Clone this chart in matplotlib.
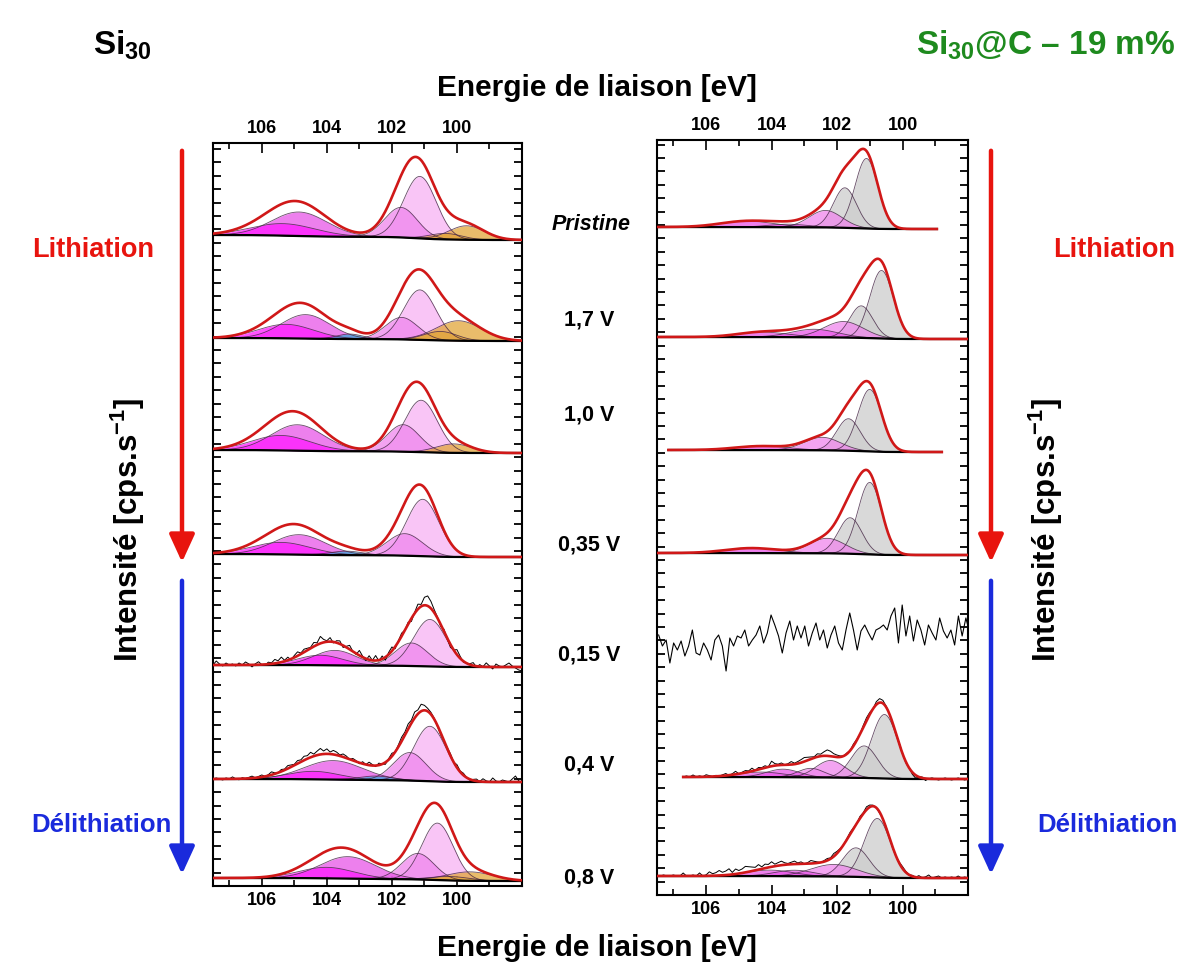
import numpy as np
import matplotlib
matplotlib.use('Agg')
import matplotlib.pyplot as plt
from matplotlib.patches import FancyArrowPatch
from matplotlib.ticker import MultipleLocator

plt.rcParams['font.family'] = ['Liberation Sans', 'DejaVu Sans']
plt.rcParams['mathtext.fontset'] = 'custom'
plt.rcParams['mathtext.rm'] = 'Liberation Sans:bold'
plt.rcParams['mathtext.bf'] = 'Liberation Sans:bold'

W, H = 1194, 965

# ---- data (energies in eV, intensities in arbitrary units) ----
spectrum_labels = ['Pristine', '1,7 V', '1,0 V', '0,35 V', '0,15 V', '0,4 V', '0,8 V']

left_base = [646, 545, 433, 329, 219, 104, 5]
left_step = [5, 3, 3, 3, 2, 3, 3]
left_peaks = [
    [(101.14, 62, 0.5, 'a'), (101.72, 30, 0.5, 'b'), (104.85, 24, 0.85, 'c'),
     (105.35, 12, 1.0, 'd'), (99.7, 14, 0.55, 'o'), (100.35, 6, 0.5, 'o')],
    [(101.14, 50, 0.5, 'a'), (101.7, 22, 0.5, 'b'), (104.65, 24, 0.75, 'c'),
     (105.25, 14, 0.85, 'd'), (99.95, 20, 0.7, 'o'), (100.5, 9, 0.5, 'o'), (103.3, 5, 0.4, 'cy')],
    [(101.1, 52, 0.5, 'a'), (101.65, 27, 0.5, 'b'), (104.9, 26, 0.8, 'c'),
     (105.4, 15, 0.9, 'd'), (100.1, 9, 0.55, 'o')],
    [(101.05, 57, 0.5, 'a'), (101.6, 22, 0.55, 'b'), (104.85, 20, 0.8, 'c'),
     (105.4, 12, 0.9, 'd'), (103.4, 4, 0.5, 'cy')],
    [(100.83, 47, 0.5, 'a'), (101.4, 23, 0.5, 'b'), (103.75, 15, 0.65, 'c'), (104.2, 10, 0.7, 'd')],
    [(100.83, 55, 0.5, 'a'), (101.45, 28, 0.5, 'b'), (103.8, 19, 0.9, 'c'),
     (104.4, 8, 0.8, 'd'), (102.5, 4, 0.5, 'cy')],
    [(100.6, 57, 0.48, 'a'), (101.2, 26, 0.5, 'b'), (103.35, 22, 0.85, 'c'),
     (104.0, 11, 0.85, 'd'), (99.6, 9, 0.7, 'o'), (100.2, 4, 0.6, 'o')],
]
left_range = [(107.5, 98.0)] * 7

right_base = [666, 556, 443, 340, 212, 116, 17]
right_step = [2, 2, 2, 2, 0, 2, 2]
right_peaks = [
    [(101.1, 70, 0.35, 'g'), (101.76, 40, 0.35, 'g'), (102.35, 17, 0.5, 'b'),
     (104.75, 6, 0.8, 'c'), (103.5, 3, 0.6, 'c')],
    [(100.64, 68, 0.36, 'g'), (101.26, 32, 0.35, 'g'), (101.8, 16, 0.6, 'b'),
     (102.7, 8, 0.7, 'c'), (104.27, 5, 0.75, 'c')],
    [(101.0, 62, 0.36, 'g'), (101.65, 32, 0.36, 'g'), (102.45, 13, 0.55, 'b'), (104.3, 4, 0.8, 'c')],
    [(101.0, 72, 0.36, 'g'), (101.6, 36, 0.36, 'g'), (102.3, 15, 0.55, 'b'), (104.6, 5, 0.8, 'c')],
    [],
    [(100.55, 64, 0.4, 'g'), (101.17, 32, 0.4, 'g'), (102.2, 17, 0.45, 'b'),
     (102.8, 9, 0.4, 'b'), (103.65, 8, 0.5, 'c'), (104.3, 5, 0.7, 'c')],
    [(100.77, 59, 0.4, 'g'), (101.42, 29, 0.4, 'g'), (102.1, 12, 0.7, 'b'),
     (103.3, 6, 0.6, 'c'), (104.05, 6, 0.7, 'c')],
]
right_range = [(107.5, 98.95), (107.5, 97.9), (107.15, 98.8), (107.5, 97.9),
               (107.45, 97.95), (106.7, 97.9), (107.5, 97.9)]

# raw data minus fit envelope (noisy spectra only)
dev_left_015 = [0, 4, 1, -1, 2, 0, 1, -1, 2, 0,
                3, 1, -2, 1, 3, 0, -1, 2, 1, 4,
                2, 5, 1, 3, -1, 2, 4, 1, 3, 2,
                1, 4, 2, 7, 3, 1, 4, -1, 2, 3,
                -2, 1, 4, 0, -1, 5, 1, -2, 4, 0,
                5, -1, 3, -3, 2, 4, -2, 1, 3, 0,
                2, -3, 1, 5, 2, 8, 10, 7, 3, 1,
                -2, 2, -1, -3, 0, 5, 2, -1, 0, 1,
                3, -1, 2, 0, 4, 1, -2, 3, 1, 0,
                2, 4, 1, -1, -3, -4]
dev_left_04 = [0, 1, 0, -1, 1, 0, 2, 0, -1, 1,
               0, 1, 2, 0, 1, 2, 0, 1, 3, 1,
               0, 2, 1, 3, 2, 1, 3, 2, 4, 3,
               5, 2, 4, 6, 3, 5, 2, 4, 3, 1,
               3, 2, 0, 2, 1, -1, 2, 0, 3, 1,
               -1, 2, 0, -2, 1, 3, 0, 2, 4, 3,
               5, 3, 6, 4, 7, 5, 3, 2, 1, -1,
               -2, -1, 1, 2, 0, 3, 1, 2, 0, -1,
               1, 2, 0, 3, 1, 0, 4, 1, 0, 2,
               1, 0, 3, 6, 1, 0]
dev_right_04 = [0, 1, 0, 2, 0, 1, 0, 2, 1, 0,
                1, 0, 1, 2, 0, 1, 3, 0, 1, 2,
                1, 3, 0, 2, 1, 2, 0, 5, 2, 1,
                2, 0, 1, 3, 1, 2, 3, 4, 3, 2,
                1, 3, 2, 4, 6, 5, 3, 2, 1, 0,
                1, 0, 2, 1, 0, 2, 3, 2, 0, 3,
                4, 3, 1, 0, -1, 0, 1, 0, -1, 0,
                -2, -3, 0, 1, -2, 0, 1, 0, -1, 0,
                1, 0, -1, 0, 1, 0, -1, 0, 1]
dev_right_08 = [0, 0, 1, 0, 0, 1, 0, 0, 3, 0,
                0, 1, 0, 3, 0, 1, 4, 2, 3, 5,
                3, 4, 6, 2, 5, 3, 4, 6, 5, 4,
                3, 5, 2, 4, 3, 5, 2, 3, 4, 2,
                1, 2, 3, 1, 2, 0, 1, 3, 2, 1,
                0, 1, 2, 1, 3, 2, 1, 0, 1, 2,
                1, 0, 2, 1, 3, 2, 1, 0, -1, 0,
                1, 0, -1, 0, 1, 2, 1, 0, 1, 0,
                2, 0, 1, 3, 0, 1, 2, 0, 1, 0,
                1, 0, 2, 0, 1, 0, 1]
# Si30@C at 0,15 V: no signal, noise only
noise_right_015 = [48, 37, 43, 20, 40, 33, 42, 27, 37, 53, 30, 28, 40, 33, 23, 43, 48, 37, 12, 45,
                   37, 47, 45, 53, 37, 43, 48, 57, 40, 50, 68, 58, 47, 30, 50, 62, 43, 57, 45, 57,
                   37, 50, 60, 43, 53, 35, 48, 57, 40, 33, 53, 70, 53, 33, 52, 58, 50, 43, 53, 55,
                   58, 53, 67, 75, 40, 78, 47, 67, 42, 63, 53, 38, 58, 50, 43, 65, 52, 45, 53, 38,
                   67, 47, 65, 50]

left_dev = [None, None, None, None, dev_left_015, dev_left_04, None]
right_dev = [None, None, None, None, noise_right_015, dev_right_04, dev_right_08]

kind_color = {'a': '#f7b2f3', 'b': '#ef86ed', 'c': '#e855e8', 'd': '#ff1aff',
              'o': '#e2a63a', 'g': '#cdcdcd', 'cy': '#3aa6d8'}


def gauss(x, c, h, s):
    return h * np.exp(-(x - c) ** 2 / (2 * s ** 2))


def draw_spectrum(ax, base, step, peaks, xr, dev):
    x = np.linspace(xr[0], xr[1], 500)
    comps = [gauss(x, c, h, s) for c, h, s, k in peaks]
    total = np.sum(comps, axis=0)
    # Shirley-like step background (higher on the high-BE side)
    cum = np.cumsum(total[::-1])[::-1]
    bg = base + step * cum / cum[0]
    for (c, h, s, k), g in zip(peaks, comps):
        ax.fill_between(x, bg, bg + g, color=kind_color[k], alpha=0.75, lw=0, zorder=2)
        ax.plot(x, bg + g, color='#402040', lw=0.6, alpha=0.8, zorder=3)
    ax.plot(x, bg, color='black', lw=1.6, zorder=4)
    if dev is not None:
        xd = np.linspace(xr[0], xr[1], len(dev))
        env_d = np.interp(xd, x[::-1], (bg + total)[::-1])
        ax.plot(xd, env_d + np.array(dev), color='black', lw=0.7, zorder=5)
    ax.plot(x, bg + total, color='#d01818', lw=1.9, zorder=6)


def noise_only(ax, base, xr, vals):
    xd = np.linspace(xr[0], xr[1], len(vals))
    ax.plot(xd, base + np.array(vals), color='black', lw=0.8, zorder=5)


fig = plt.figure(figsize=(W / 100, H / 100), dpi=100)


def px_axes(x0, y0, x1, y1):
    return fig.add_axes([x0 / W, 1 - y1 / H, (x1 - x0) / W, (y1 - y0) / H])


def style_axes(ax, ymax):
    ax.set_xlim(107.5, 98.0)
    ax.set_ylim(0, ymax)
    ax.set_xticks([106, 104, 102, 100])
    ax.xaxis.set_minor_locator(MultipleLocator(1))
    ax.yaxis.set_major_locator(MultipleLocator(13.4))
    ax.tick_params(axis='x', which='both', direction='in', top=True, bottom=True,
                   labeltop=True, labelbottom=True, width=1.2, pad=4)
    ax.tick_params(axis='x', which='major', length=7)
    ax.tick_params(axis='x', which='minor', length=4)
    ax.tick_params(axis='y', which='both', direction='in', left=True, right=True,
                   labelleft=False, length=6, width=1.3)
    for lab in ax.get_xticklabels(which='both'):
        lab.set_fontweight('bold')
        lab.set_fontsize(13)
    for sp in ax.spines.values():
        sp.set_linewidth(1.5)


axL = px_axes(213, 143, 522, 886)
style_axes(axL, 743)
for i in range(7):
    draw_spectrum(axL, left_base[i], left_step[i], left_peaks[i], left_range[i], left_dev[i])

axR = px_axes(657, 140, 968, 895)
style_axes(axR, 755)
for i in range(7):
    if right_peaks[i]:
        draw_spectrum(axR, right_base[i], right_step[i], right_peaks[i], right_range[i], right_dev[i])
    else:
        noise_only(axR, right_base[i], right_range[i], right_dev[i])


def ftext(x, y, s, **kw):
    fig.text(x / W, 1 - y / H, s, ha='center', va='center', **kw)


ftext(122, 45, r'Si$_{30}$', fontsize=24, fontweight='bold')
ftext(1046, 45, r'Si$_{30}$@C – 19 m%', fontsize=24, fontweight='bold', color='#1e8a1e')
ftext(597, 88, 'Energie de liaison [eV]', fontsize=21.5, fontweight='bold')
ftext(597, 948, 'Energie de liaison [eV]', fontsize=21.5, fontweight='bold')

ftext(93, 250, 'Lithiation', fontsize=19.5, fontweight='bold', color='#e8140e')
ftext(101, 825, 'Délithiation', fontsize=18.5, fontweight='bold', color='#1a2adc')
ftext(1114, 250, 'Lithiation', fontsize=19.5, fontweight='bold', color='#e8140e')
ftext(1107, 825, 'Délithiation', fontsize=18.5, fontweight='bold', color='#1a2adc')

ftext(128, 530, r'Intensité [cps.s$^{\mathbf{-1}}$]', fontsize=22.5, fontweight='bold', rotation=90)
ftext(1046, 530, r'Intensité [cps.s$^{\mathbf{-1}}$]', fontsize=22.5, fontweight='bold', rotation=90)

mid_y = [225, 320, 415, 545, 655, 765, 878]
for lab, y in zip(spectrum_labels, mid_y):
    if lab == 'Pristine':
        ftext(591, y, lab, fontsize=15.5, fontweight='bold', style='italic')
    else:
        ftext(589, y, lab, fontsize=15.5, fontweight='bold')


def farrow(x, y0, y1, color):
    a = FancyArrowPatch((x / W, 1 - y0 / H), (x / W, 1 - y1 / H), transform=fig.transFigure,
                        arrowstyle='-|>,head_length=1.2,head_width=0.55', lw=3.2,
                        color=color, mutation_scale=14)
    fig.add_artist(a)


farrow(182, 148, 565, '#e8140e')
farrow(182, 578, 877, '#1a2adc')
farrow(991, 148, 565, '#e8140e')
farrow(991, 578, 877, '#1a2adc')

fig.savefig('out.png', dpi=100)
